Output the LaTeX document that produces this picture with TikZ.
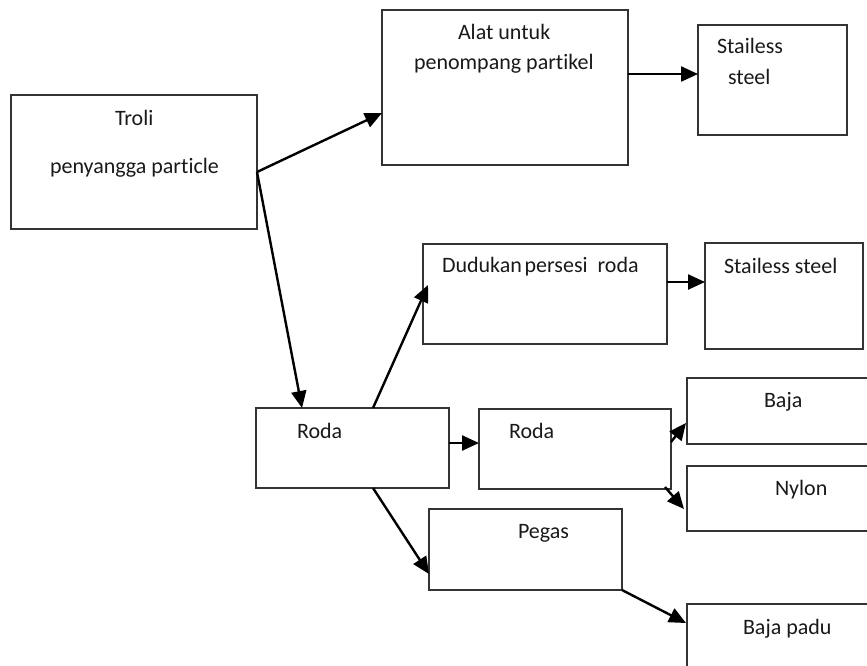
\documentclass[tikz,border=0pt]{standalone}
\usepackage{fontspec}
\setmainfont{Carlito}[Ligatures=NoCommon]
\usetikzlibrary{arrows.meta}

\begin{document}
\begin{tikzpicture}[x=1pt,y=-1pt,
  box/.style={draw=black!80,line width=1.4pt,rectangle,inner sep=0pt,outer sep=0pt},
  lbl/.style={anchor=base west,inner sep=0pt,outer sep=0pt,text=black!90,
              font=\fontsize{22}{26}\selectfont},
  link/.style={draw=black,line width=2.4pt,
               -{Triangle[length=17pt,width=15pt]}}]
  % page frame; shapes running off the right and bottom are cut here
  \clip (0,0) rectangle (867,665);

  % boxes
  \node[box,minimum width=246pt,minimum height=134pt] (troli) at (134,162) {};
  \node[box,minimum width=246pt,minimum height=155pt] (alat)  at (505,87.5) {};
  \node[box,minimum width=149pt,minimum height=110pt] (st1)   at (772.5,80) {};
  \node[box,minimum width=244pt,minimum height=100pt] (dud)   at (545,294) {};
  \node[box,minimum width=158pt,minimum height=106pt] (st2)   at (784,296) {};
  \node[box,minimum width=193pt,minimum height=80pt]  (roda1) at (352.5,448) {};
  \node[box,minimum width=192pt,minimum height=80pt]  (roda2) at (575,449) {};
  \node[box,minimum width=193pt,minimum height=81pt]  (pegas) at (525.5,549.5) {};
  \node[box,minimum width=233pt,minimum height=66pt]  (baja)  at (803.5,411) {};
  \node[box,minimum width=233pt,minimum height=65pt]  (nylon) at (803.5,498.5) {};
  \node[box,minimum width=233pt,minimum height=96pt]  (bpadu) at (803.5,652) {};

  % labels
  \node[lbl] (tTroli) at (115,125) {Troli};
  \node[lbl] (tPeny)  at (50,173)  {penyangga particle};
  \node[lbl] (tAlat)  at (458,39)  {Alat untuk};
  \node[lbl] (tPenom) at (414,69)  {penompang partikel};
  \node[lbl] (tSt1a)  at (717,53)  {Stailess};
  \node[lbl] (tSt1b)  at (728,84)  {steel};
  \node[lbl] (tDud)   at (442,272) {Dudukan\kern-0.1em\ persesi\ \ roda};
  \node[lbl] (tSt2)   at (724,273) {Stailess steel};
  \node[lbl] (tRoda1) at (297,438) {Roda};
  \node[lbl] (tRoda2) at (509,438) {Roda};
  \node[lbl] (tPegas) at (518,538) {Pegas};
  \node[lbl] (tBaja)  at (764,407) {Baja};
  \node[lbl] (tNylon) at (775,495) {Nylon};
  \node[lbl] (tBpadu) at (743,634) {Baja padu};

  % connectors
  \draw[link] ([yshift=-10pt]troli.east) -- ([yshift=-25.5pt]alat.west);
  \draw[link] ([yshift=13.5pt]alat.east) -- ([yshift=6pt]st1.west);
  \draw[link] ([yshift=-10pt]troli.east) -- ([xshift=-50.5pt]roda1.north);
  \draw[link] ([xshift=20.5pt]roda1.north) -- ([xshift=5pt,yshift=9pt]dud.west);
  \draw[link] ([yshift=12pt]dud.east) -- ([yshift=14pt]st2.west);
  \draw[link] ([yshift=5pt]roda1.east) -- ([yshift=6pt]roda2.west);
  \draw[link] ([xshift=20.5pt]roda1.south) -- ([yshift=-24.5pt]pegas.west);
  \draw[link] ([yshift=7pt]roda2.east) -- ([xshift=-1pt,yshift=-12pt]baja.west);
  \draw[link] ([xshift=-6pt,yshift=2pt]roda2.south east) -- ([xshift=-3pt,yshift=-10.5pt]nylon.west);
  \draw[link] (pegas.south east) -- ([xshift=-1pt,yshift=29pt]bpadu.west);
\end{tikzpicture}
\end{document}
